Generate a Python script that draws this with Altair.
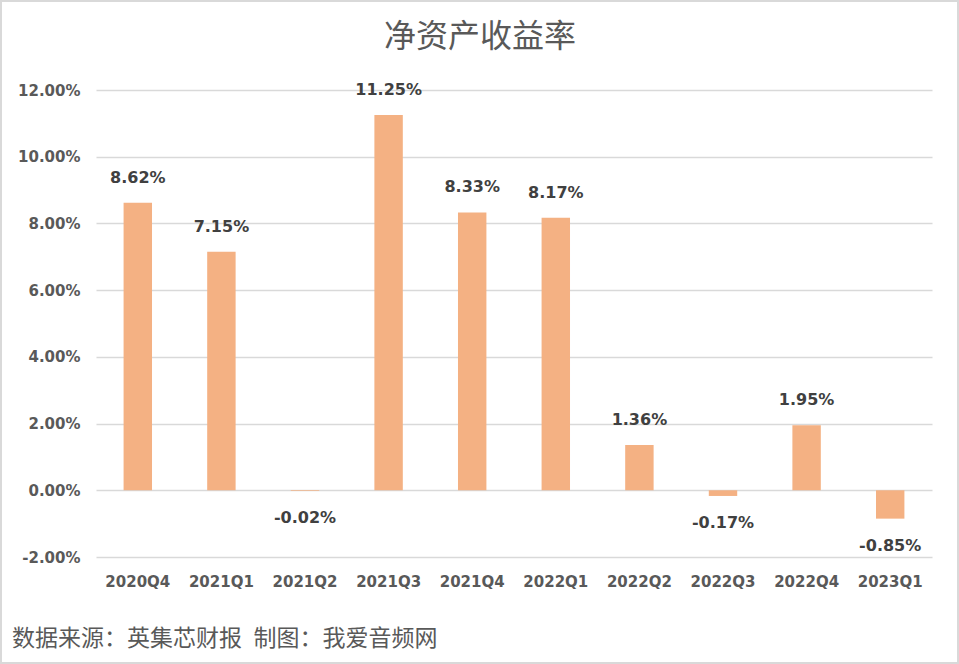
import altair as alt
import pandas as pd

quarters = ["2020Q4", "2021Q1", "2021Q2", "2021Q3", "2021Q4",
            "2022Q1", "2022Q2", "2022Q3", "2022Q4", "2023Q1"]
roe = [0.0862, 0.0715, -0.0002, 0.1125, 0.0833,
       0.0817, 0.0136, -0.0017, 0.0195, -0.0085]
y_ticks = [-0.02, 0.0, 0.02, 0.04, 0.06, 0.08, 0.10, 0.12]

title_text = "净资产收益率"
footer_text = "数据来源：英集芯财报\u2002制图：我爱音频网"

df = pd.DataFrame({"q": quarters, "v": roe})

W, H = 836, 467
PL, PT, PR, PB = 96, 90, 27, 107

num_font = "DejaVu Sans"
cjk_font = "Noto Sans CJK SC"
MINUS = "\u2212"

x_enc = alt.X("q:N", sort=quarters, title=None,
              scale=alt.Scale(paddingInner=0.66, paddingOuter=0.33),
              axis=alt.Axis(labelAngle=0, labelFont=num_font, labelFontSize=15,
                            labelFontWeight="bold", labelColor="#595959",
                            labelPadding=17, ticks=False, domain=False, grid=False))
y_enc = alt.Y("v:Q", title=None,
              scale=alt.Scale(domain=[-0.02, 0.12], nice=False, zero=False),
              axis=alt.Axis(values=y_ticks, format=".2%", labelFont=num_font,
                            labelFontSize=15, labelFontWeight="bold",
                            labelColor="#595959", labelPadding=16, ticks=False,
                            labelExpr=f"replace(datum.label, '{MINUS}', '-')",
                            domain=False, grid=True, gridColor="#D9D9D9",
                            gridWidth=1.3))

base = alt.Chart(df).transform_calculate(
    lbl=f"replace(format(datum.v, '.2%'), '{MINUS}', '-')"
)

bars = base.mark_bar(color="#F4B183").encode(x=x_enc, y=y_enc, y2=alt.datum(0))

pos_labels = base.transform_filter("datum.v >= 0").mark_text(
    font=num_font, fontSize=16, fontWeight="bold", color="#404040",
    baseline="middle", dy=-25
).encode(x=alt.X("q:N", sort=quarters), y="v:Q", text="lbl:N")

neg_labels = base.transform_filter("datum.v < 0").mark_text(
    font=num_font, fontSize=16, fontWeight="bold", color="#404040",
    baseline="middle", dy=27
).encode(x=alt.X("q:N", sort=quarters), y="v:Q", text="lbl:N")

title = alt.Chart(pd.DataFrame({"t": [title_text]})).mark_text(
    font=cjk_font, fontSize=32, color="#595959", align="center", baseline="middle"
).encode(x=alt.value(480 - PL), y=alt.value(37 - PT), text="t:N")

footer = alt.Chart(pd.DataFrame({"t": [footer_text]})).mark_text(
    font=cjk_font, fontSize=23, color="#595959", align="left", baseline="middle"
).encode(x=alt.value(12 - PL), y=alt.value(639 - PT), text="t:N")

border = alt.Chart(pd.DataFrame({"t": [0]})).mark_rect(
    fill=None, stroke="#D9D9D9", strokeWidth=2
).encode(x=alt.value(1 - PL), x2=alt.value(958 - PL),
         y=alt.value(1 - PT), y2=alt.value(663 - PT))

chart = alt.layer(border, bars, pos_labels, neg_labels, title, footer).properties(
    width=W, height=H,
    autosize=alt.AutoSizeParams(type="none"),
    padding={"left": PL, "top": PT, "right": PR, "bottom": PB},
    background="white",
).configure_view(stroke=None)

chart.save("out.html", embed_options={"renderer": "svg", "actions": False})
